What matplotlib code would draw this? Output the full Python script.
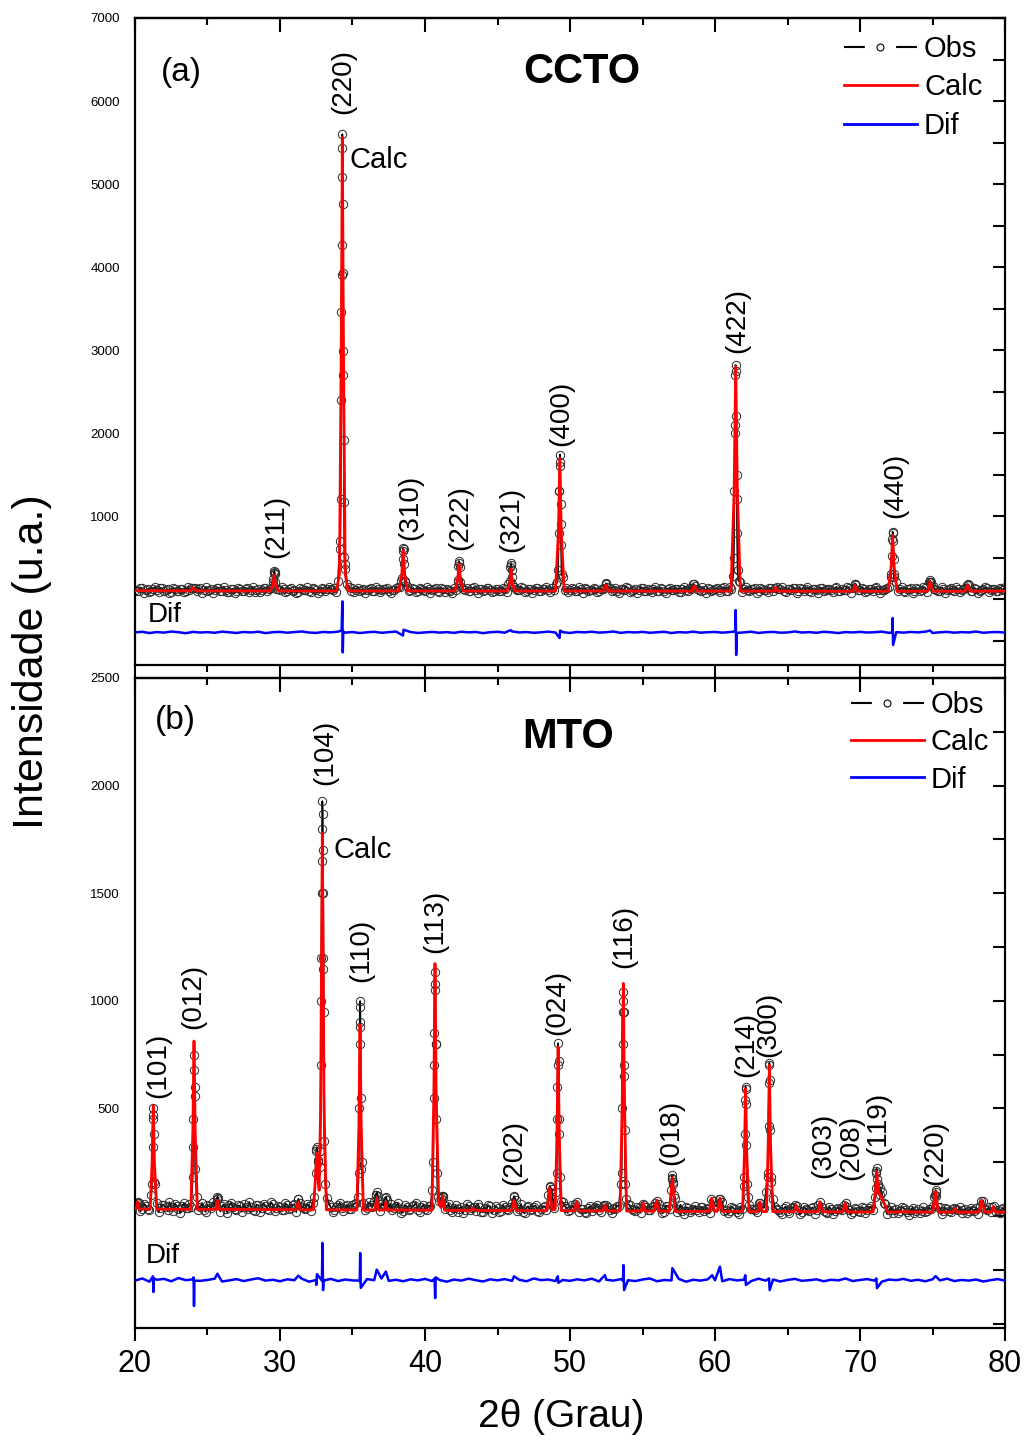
import numpy as np
import matplotlib.pyplot as plt
from matplotlib.lines import Line2D
from matplotlib.ticker import MultipleLocator, FixedLocator

plt.rcParams['font.family'] = ['Liberation Sans', 'DejaVu Sans']

# ---------------- (a) CCTO ----------------
# observed counts on two interleaved 0.25 deg grids, 20..80
grid = np.arange(20, 80.001, 0.25)
grid2 = np.arange(20.125, 79.876, 0.25)
obs_a = [112, 96, 130, 104, 88, 121, 109, 135, 97, 115, 84, 126, 102, 118, 93, 110, 135, 99, 127, 105,
         91, 119, 108, 132, 95, 113, 87, 124, 101, 116, 98, 129, 106, 90, 122, 111, 136, 125, 210, 125,
         103, 118, 94, 127, 109, 86, 121, 113, 99, 131, 107, 92, 125, 116, 120, 135, 220, 3900, 420, 150,
         128, 112, 97, 120, 104, 133, 91, 117, 108, 126, 95, 114, 135, 150, 580, 160, 110, 123, 101, 118,
         96, 124, 107, 130, 89, 115, 121, 102, 134, 200, 150, 112, 98, 127, 105, 119, 93, 131, 110, 101,
         125, 97, 116, 180, 260, 120, 108, 133, 94, 118, 106, 129, 99, 121, 112, 137, 180, 1300, 260, 130,
         104, 122, 96, 117, 131, 101, 113, 126, 92, 120, 185, 128, 107, 95, 124, 111, 136, 99, 118, 105,
         127, 93, 114, 122, 101, 130, 97, 116, 109, 125, 88, 119, 106, 132, 175, 121, 100, 114, 127, 96,
         118, 108, 133, 99, 140, 280, 1200, 200, 125, 103, 116, 128, 94, 121, 110, 135, 102, 150, 117, 98,
         123, 107, 131, 95, 115, 126, 100, 119, 112, 134, 91, 117, 105, 128, 99, 121, 110, 132, 130, 170,
         108, 125, 97, 118, 131, 103, 114, 126, 150, 790, 200, 122, 101, 117, 129, 95, 120, 109, 136, 210,
         160, 113, 98, 124, 107, 130, 93, 118, 111, 127, 170, 102, 121, 96, 115, 129, 104, 119, 100, 125,
         150]
obs2_a = [95, 138, 74, 120, 101, 146, 83, 127, 109, 71, 134, 98, 117, 80, 142, 130, 128, 125, 78, 139,
          104, 76, 131, 92, 148, 86, 115, 73, 136, 100, 122, 79, 144, 107, 88, 129, 97, 130, 320, 115,
          140, 82, 119, 97, 72, 133, 105, 147, 89, 116, 77, 128, 94, 139, 110, 81, 700, 2700, 180, 102,
          86, 137, 113, 75, 124, 99, 145, 84, 118, 131, 73, 106, 141, 220, 200, 96, 127, 80, 134, 110,
          143, 78, 121, 102, 136, 87, 114, 74, 110, 430, 115, 129, 93, 145, 76, 117, 104, 138, 85, 126,
          91, 133, 79, 380, 140, 103, 146, 85, 122, 70, 135, 97, 119, 142, 88, 114, 200, 900, 106, 83,
          128, 95, 141, 72, 116, 105, 137, 81, 124, 130, 140, 99, 132, 77, 119, 146, 90, 113, 75, 135,
          100, 123, 82, 144, 93, 117, 71, 138, 107, 126, 86, 148, 96, 121, 160, 112, 139, 74, 118, 103,
          131, 79, 145, 92, 120, 2000, 220, 87, 142, 98, 125, 72, 136, 109, 84, 130, 130, 116, 140, 81,
          115, 138, 76, 127, 101, 143, 89, 119, 73, 134, 106, 124, 85, 147, 97, 111, 140, 78, 175, 104,
          137, 82, 122, 96, 145, 75, 114, 132, 260, 300, 100, 140, 87, 119, 73, 128, 99, 143, 80, 210,
          126, 91, 139, 78, 117, 104, 146, 83, 121, 165, 95, 134, 72, 113, 141, 88, 125, 100, 137, 110]
# extra observed points on the peaks
pk_x_a = [29.55, 29.58, 29.62, 29.65, 29.68,
          34.15, 34.19, 34.22, 34.24, 34.26, 34.28, 34.3, 34.31, 34.33, 34.35, 34.37, 34.39, 34.41, 34.44, 34.47,
          38.4, 38.45, 38.48, 38.52, 38.56, 38.6,
          42.27, 42.31, 42.35, 42.39, 42.43,
          45.86, 45.9, 45.94, 45.98, 46.02,
          49.18, 49.22, 49.25, 49.28, 49.3, 49.32, 49.35, 49.38, 49.42,
          52.45, 52.5, 58.55,
          61.3, 61.34, 61.37, 61.4, 61.42, 61.44, 61.46, 61.49, 61.52, 61.56,
          69.66,
          72.15, 72.19, 72.22, 72.25, 72.28, 72.31, 72.35,
          74.8, 74.86, 77.43]
pk_y_a = [240, 310, 337, 300, 200,
          600, 1200, 2400, 3460, 4270, 5080, 5600, 5430, 4760, 3930, 2990, 1910, 1170, 510, 360,
          250, 480, 614, 600, 420, 220,
          230, 400, 458, 380, 200,
          220, 410, 434, 350, 180,
          350, 800, 1300, 1650, 1741, 1600, 1150, 650, 300,
          180, 190, 180,
          500, 1300, 2100, 2700, 2820, 2750, 2200, 1500, 800, 350,
          185,
          300, 520, 720, 811, 700, 480, 260,
          229, 200, 180]
calc_x_a = [20.0, 23.8, 24.0, 24.2, 29.3, 29.5, 29.6, 29.7, 29.9,
            33.9, 34.1, 34.22, 34.3, 34.38, 34.5, 34.7,
            38.2, 38.4, 38.5, 38.6, 38.8,
            42.05, 42.25, 42.35, 42.45, 42.65,
            45.65, 45.85, 45.93, 46.01, 46.2,
            49.0, 49.2, 49.3, 49.4, 49.6,
            52.3, 52.48, 52.65, 58.4, 58.57, 58.75,
            61.1, 61.32, 61.43, 61.54, 61.75,
            64.05, 64.2, 64.35, 69.5, 69.66, 69.8,
            71.95, 72.15, 72.25, 72.35, 72.55,
            74.65, 74.83, 75.0, 77.25, 77.43, 77.6, 80.0]
calc_y_a = [100, 98, 135, 98, 97, 160, 290, 160, 97,
            97, 300, 2900, 5566, 2900, 300, 97,
            97, 300, 590, 300, 97,
            96, 230, 420, 230, 96,
            96, 200, 361, 200, 96,
            96, 800, 1692, 800, 96,
            96, 170, 96, 95, 160, 95,
            95, 1300, 2800, 1300, 95,
            95, 140, 95, 94, 165, 94,
            94, 400, 771, 400, 94,
            94, 215, 94, 94, 165, 94, 96]
# difference curve on a 0.5 deg grid plus the spikes
grid_dif = np.arange(20, 80.001, 0.5)
dif_a = [-402, -395, -410, -398, -405, -392, -400, -412, -396, -404, -399, -407, -393, -401, -409, -397, -403, -394, -411, -400,
         -396, -406, -399, -391, -404, -408, -397, -402, -393, -405, -398, -410, -401, -395, -407, -400, -392, -404, -398, -409,
         -403, -396, -405, -399, -408, -394, -402, -397, -411, -400, -395, -406, -390, -403, -398, -407, -401, -393, -404, -399,
         -409, -397, -402, -394, -405, -400, -392, -408, -398, -403, -396, -407, -401, -395, -410, -399, -404, -393, -406, -400,
         -397, -405, -399, -408, -402, -394, -409, -400, -396, -406, -403, -391, -404, -399, -407, -395, -401, -410, -398, -403,
         -396, -404, -400, -393, -408, -399, -405, -397, -402, -394, -409, -401, -396, -406, -399, -403, -392, -407, -400, -398,
         -404]
dif_pk_x_a = [34.25, 34.3, 34.33, 34.36, 38.48, 38.52, 45.9, 49.28, 49.32,
              61.4, 61.43, 61.46, 61.49, 72.22, 72.25, 72.28, 74.83]
dif_pk_y_a = [-380, -29, -643, -390, -440, -370, -375, -470, -380,
              -390, -133, -675, -410, -400, -229, -554, -380]
hkl_a = ['(211)', '(220)', '(310)', '(222)', '(321)', '(400)', '(422)', '(440)']
hkl_x_a = [29.76, 34.34, 38.97, 42.41, 45.93, 49.38, 61.55, 72.41]
hkl_y_a = [494, 5843, 711, 590, 566, 1843, 2964, 976]

# ---------------- (b) MTO ----------------
obs_b = [55, 62, 34, 48, 29, 450, 60, 37, 51, 26, 44, 58, 33, 47, 39, 55, 320, 90, 41, 30,
         53, 36, 49, 85, 45, 31, 52, 40, 28, 46, 57, 35, 43, 24, 50, 38, 47, 29, 54, 36,
         42, 27, 51, 39, 56, 78, 44, 33, 48, 60, 300, 230, 1200, 85, 41, 28, 50, 36, 45, 31,
         49, 60, 900, 62, 38, 52, 70, 95, 58, 82, 40, 29, 47, 35, 22, 44, 31, 50, 26, 41,
         33, 48, 120, 800, 70, 92, 45, 28, 39, 21, 43, 30, 47, 36, 25, 40, 18, 34, 45, 27,
         38, 22, 41, 29, 60, 75, 33, 19, 40, 28, 44, 24, 35, 46, 100, 125, 110, 380, 65, 38,
         27, 42, 66, 31, 20, 37, 25, 43, 30, 45, 52, 28, 36, 48, 150, 650, 55, 33, 22, 39,
         58, 41, 27, 45, 72, 34, 21, 46, 170, 85, 32, 24, 40, 19, 35, 28, 42, 23, 37, 80,
         48, 78, 66, 30, 22, 38, 17, 42, 140, 90, 35, 26, 62, 40, 110, 700, 80, 31, 20, 36,
         24, 39, 52, 28, 17, 34, 23, 41, 29, 66, 25, 15, 33, 22, 38, 27, 62, 30, 19, 35,
         21, 37, 26, 45, 90, 150, 110, 55, 28, 16, 33, 24, 38, 20, 30, 14, 32, 25, 18, 35,
         45, 110, 40, 22, 31, 18, 38, 26, 15, 34, 23, 29, 36, 48, 72, 30, 21, 45, 26, 33,
         28]
obs2_b = [60, 22, 57, 31, 100, 150, 18, 52, 40, 65, 25, 48, 14, 59, 36, 40, 600, 28, 61, 19,
          45, 64, 80, 21, 55, 16, 62, 33, 49, 20, 41, 66, 27, 53, 17, 58, 34, 63, 23, 47,
          26, 59, 35, 50, 18, 60, 38, 56, 24, 90, 250, 1500, 150, 57, 20, 44, 61, 25, 52, 32,
          58, 90, 250, 29, 63, 42, 100, 24, 48, 75, 55, 37, 60, 16, 51, 30, 45, 62, 21, 53,
          29, 46, 700, 90, 85, 33, 57, 18, 49, 35, 14, 54, 26, 43, 58, 20, 39, 50, 13, 47,
          17, 52, 31, 44, 90, 24, 56, 12, 45, 33, 50, 20, 42, 28, 135, 36, 600, 70, 48, 23,
          49, 55, 19, 32, 14, 46, 38, 52, 20, 52, 41, 13, 34, 48, 950, 80, 50, 30, 43, 15,
          50, 27, 44, 60, 55, 16, 48, 35, 150, 21, 53, 11, 39, 29, 46, 18, 41, 33, 12, 70,
          45, 78, 24, 12, 44, 31, 9, 35, 590, 50, 32, 19, 60, 38, 200, 180, 42, 26, 10, 45,
          13, 40, 48, 9, 43, 27, 36, 11, 50, 40, 20, 44, 8, 35, 31, 50, 41, 10, 37, 24,
          42, 12, 38, 28, 210, 130, 60, 9, 40, 27, 14, 43, 30, 7, 39, 22, 12, 41, 24, 34,
          90, 44, 10, 38, 23, 32, 32, 42, 28, 14, 39, 25, 11, 70, 33, 40, 40, 19, 12, 36]
pk_x_b = [20.2,
          21.17, 21.21, 21.24, 21.27, 21.3, 21.34,
          23.98, 24.02, 24.05, 24.08, 24.11, 24.15,
          25.68, 31.26,
          32.45, 32.5, 32.55, 32.6,
          32.78, 32.82, 32.84, 32.86, 32.89, 32.9, 32.92, 32.95, 32.96, 32.98, 33.0, 33.02, 33.06,
          35.42, 35.46, 35.49, 35.51, 35.53, 35.55, 35.58, 35.62,
          36.62, 36.7, 37.3,
          40.57, 40.61, 40.64, 40.67, 40.69, 40.72, 40.75, 40.79, 40.83,
          41.18, 41.25, 46.14, 48.6,
          49.08, 49.12, 49.15, 49.18, 49.21, 49.24, 49.28,
          53.56, 53.6, 53.63, 53.66, 53.68, 53.71, 53.74, 53.78, 53.82,
          56.98, 57.03, 57.06, 57.1, 57.15,
          62.02, 62.06, 62.09, 62.11, 62.14, 62.17, 62.21,
          63.65, 63.69, 63.72, 63.75, 63.78, 63.81, 63.85,
          71.08, 71.12, 71.15, 71.19, 71.25, 71.35,
          75.18, 75.22, 75.27]
pk_y_b = [65,
          150, 320, 470, 500, 380, 160,
          180, 450, 680, 748, 560, 220,
          90, 80,
          200, 310, 320, 260,
          300, 700, 1000, 1200, 1650, 1800, 1928, 1870, 1700, 1500, 1150, 950, 350,
          200, 500, 800, 970, 999, 880, 550, 220,
          100, 110, 90,
          250, 550, 850, 1080, 1135, 1050, 800, 450, 200,
          95, 90, 93, 140,
          200, 450, 700, 803, 720, 450, 180,
          200, 500, 800, 1000, 1042, 950, 700, 400, 150,
          120, 175, 190, 160, 100,
          180, 380, 540, 601, 520, 330, 150,
          180, 420, 620, 712, 630, 400, 160,
          130, 200, 221, 170, 140, 100,
          100, 121, 95]
calc_x_b = [20.0, 20.1, 20.2, 20.3,
            21.05, 21.18, 21.26, 21.34, 21.5,
            23.85, 23.99, 24.07, 24.15, 24.3,
            25.55, 25.68, 25.8,
            31.1, 31.26, 31.4,
            32.3, 32.45, 32.53, 32.6, 32.7, 32.8, 32.92, 33.04, 33.2,
            35.3, 35.44, 35.52, 35.6, 35.75,
            36.55, 36.67, 36.8,
            37.2, 37.3, 37.4,
            40.47, 40.61, 40.69, 40.77, 40.95, 41.1, 41.22, 41.35,
            43.15, 43.3, 43.45,
            45.95, 46.14, 46.3,
            48.4, 48.6, 48.75,
            48.98, 49.1, 49.18, 49.26, 49.4,
            50.3, 50.46, 50.6,
            52.25, 52.41, 52.55,
            53.45, 53.6, 53.68, 53.76, 53.9,
            54.9, 55.06, 55.2,
            55.8, 55.98, 56.1,
            56.85, 57.06, 57.25,
            59.6, 59.77, 59.95,
            60.15, 60.34, 60.5,
            61.9, 62.03, 62.11, 62.19, 62.35,
            62.95, 63.1, 63.25,
            63.55, 63.67, 63.75, 63.83, 63.98,
            65.45, 65.6, 65.75,
            67.08, 67.24, 67.4,
            68.8, 68.97, 69.15,
            70.9, 71.06, 71.15, 71.3, 71.6, 71.9,
            72.95, 73.1, 73.25,
            75.0, 75.22, 75.4,
            76.4, 76.55, 76.7,
            78.2, 78.4, 78.6,
            79.05, 79.2, 79.35, 80.0]
calc_y_b = [32, 45, 65, 32,
            32, 250, 513, 250, 32,
            31, 400, 813, 400, 31,
            31, 74, 31,
            29, 65, 29,
            29, 180, 292, 200, 120, 500, 1780, 500, 29,
            28, 420, 889, 420, 28,
            28, 84, 28,
            28, 65, 28,
            27, 560, 1173, 560, 60, 40, 93, 27,
            26, 37, 26,
            25, 74, 25,
            25, 130, 30,
            30, 380, 785, 380, 25,
            24, 66, 24,
            24, 51, 24,
            24, 520, 1081, 520, 23,
            23, 60, 23,
            23, 74, 23,
            22, 177, 22,
            22, 83, 22,
            22, 83, 22,
            21, 290, 593, 290, 21,
            21, 66, 21,
            21, 340, 701, 340, 21,
            20, 51, 20,
            20, 66, 20,
            19, 60, 19,
            19, 105, 206, 107, 70, 19,
            19, 24, 19,
            18, 113, 18,
            18, 37, 18,
            18, 74, 18,
            18, 43, 18, 18]
dif_b = [-300, -290, -305, -296, -292, -303, -288, -298, -294, -301, -297, -291, -304, -299, -293, -302, -295, -289, -300, -296,
         -303, -294, -298, -291, -305, -297, -300, -292, -302, -295, -299, -304, -293, -298, -290, -301, -296, -303, -294, -299,
         -292, -302, -297, -305, -295, -300, -291, -298, -304, -294, -299, -293, -301, -296, -303, -290, -298, -295, -302, -297,
         -301, -294, -299, -291, -304, -296, -300, -293, -298, -302, -295, -290, -303, -297, -299, -292, -305, -296, -300, -294,
         -298, -303, -293, -299, -296, -302, -291, -300, -295, -304, -297, -292, -301, -298, -294, -303, -296, -299, -290, -302,
         -297, -293, -300, -305, -295, -298, -292, -301, -296, -303, -294, -299, -291, -302, -297, -300, -295, -304, -298, -293,
         -300]
dif_pk_x_b = [21.24, 21.27, 21.3, 24.04, 24.07, 24.1, 25.68, 31.26, 32.5, 32.55,
              32.89, 32.93, 32.97, 35.49, 35.53, 35.57, 36.67, 37.3, 40.66, 40.7, 40.74,
              46.14, 49.16, 49.2, 52.41, 53.65, 53.69, 53.73, 57.06, 59.8, 60.34,
              62.09, 62.13, 63.73, 63.77, 71.13, 71.17, 75.22]
dif_pk_y_b = [-280, -353, -290, -285, -418, -300, -268, -277, -320, -270,
              -300, -125, -344, -300, -172, -334, -249, -258, -290, -381, -285,
              -280, -280, -310, -274, -300, -228, -344, -242, -275, -235,
              -275, -320, -290, -344, -290, -335, -279]
hkl_b = ['(101)', '(012)', '(104)', '(110)', '(113)', '(202)', '(024)', '(116)', '(018)',
         '(214)', '(300)', '(303)', '(208)', '(119)', '(220)']
hkl_x_b = [21.62, 24.03, 33.1, 35.62, 40.69, 46.14, 49.14, 53.72, 57.0,
           62.14, 63.69, 67.48, 69.41, 71.28, 75.17]
hkl_y_b = [548, 869, 2004, 1088, 1222, 145, 841, 1152, 237,
           647, 740, 177, 167, 283, 144]


def merged(xs, ys):
    x = np.concatenate([np.asarray(v, float) for v in xs])
    y = np.concatenate([np.asarray(v, float) for v in ys])
    o = np.argsort(x, kind='stable')
    return x[o], y[o]


def panel(ax, obs, obs2, pkx, pky, cx, cy, dif, dpx, dpy, hkl, hx, hy, ylim, yticks, yminor):
    ox, oy = merged([grid, grid2, pkx], [obs, obs2, pky])
    dx, dy = merged([grid_dif, dpx], [dif, dpy])
    ax.plot(ox, oy, color='black', lw=1.2, marker='o', ms=6, mfc='none',
            mec='#2a2a2a', mew=0.7, zorder=2)
    ax.plot(cx, cy, color='red', lw=2.0, zorder=3)
    ax.plot(dx, dy, color='blue', lw=1.8, zorder=3)
    for lab, x, y in zip(hkl, hx, hy):
        ax.text(x, y, lab, rotation=90, ha='center', va='bottom', fontsize=20)
    ax.set_xlim(20, 80)
    ax.set_ylim(*ylim)
    for s in ax.spines.values():
        s.set_linewidth(1.6)
    ax.xaxis.set_major_locator(MultipleLocator(10))
    ax.xaxis.set_minor_locator(MultipleLocator(5))
    ax.tick_params(axis='x', which='both', direction='out', width=1.5, top=False)
    ax.tick_params(axis='x', which='major', length=9)
    ax.tick_params(axis='x', which='minor', length=5)
    ax.yaxis.set_major_locator(FixedLocator(yticks))
    ax.yaxis.set_minor_locator(MultipleLocator(yminor))
    ax.tick_params(axis='y', which='both', left=False, right=True, direction='in',
                   length=8.5, width=1.5, labelsize=9.5, pad=11)
    top = ax.secondary_xaxis('top')
    top.xaxis.set_major_locator(MultipleLocator(10))
    top.xaxis.set_minor_locator(MultipleLocator(5))
    top.tick_params(axis='x', which='both', direction='in', width=1.5, labeltop=False)
    top.tick_params(axis='x', which='major', length=10)
    top.tick_params(axis='x', which='minor', length=5)
    top.spines['top'].set_linewidth(1.6)

    h_obs = (Line2D([], [], color='black', lw=1.5, ls=(0, (10, 15))),
             Line2D([], [], ls='none', marker='o', ms=5, mfc='white', mec='black', mew=0.8))
    h_calc = Line2D([], [], color='red', lw=2)
    h_dif = Line2D([], [], color='blue', lw=2)
    return [h_obs, h_calc, h_dif]


fig = plt.figure(figsize=(10.25, 14.4), dpi=100)
ax1 = fig.add_axes([0.1317, 0.5382, 0.8488, 0.4493])
ax2 = fig.add_axes([0.1317, 0.0778, 0.8488, 0.4514])

hs = panel(ax1, obs_a, obs2_a, pk_x_a, pk_y_a, calc_x_a, calc_y_a, dif_a, dif_pk_x_a, dif_pk_y_a,
           hkl_a, hkl_x_a, hkl_y_a, (-795, 7000), [1000, 2000, 3000, 4000, 5000, 6000, 7000], 500)
ax1.tick_params(axis='x', labelbottom=False)
ax1.legend(hs, ['Obs', 'Calc', 'Dif'], loc='upper right', bbox_to_anchor=(0.974, 0.974),
           frameon=False, fontsize=21, handlelength=2.5, handletextpad=0.25,
           labelspacing=0.36, borderpad=0, borderaxespad=0)
ax1.text(0.053, 0.9165, '(a)', transform=ax1.transAxes, fontsize=24, ha='center', va='center')
ax1.text(0.514, 0.9165, 'CCTO', transform=ax1.transAxes, fontsize=30, fontweight='bold',
         ha='center', va='center')
ax1.text(0.247, 0.7805, 'Calc', transform=ax1.transAxes, fontsize=21, ha='left', va='center')
ax1.text(0.015, 0.078, 'Dif', transform=ax1.transAxes, fontsize=20, ha='left', va='center')

hs = panel(ax2, obs_b, obs2_b, pk_x_b, pk_y_b, calc_x_b, calc_y_b, dif_b, dif_pk_x_b, dif_pk_y_b,
           hkl_b, hkl_x_b, hkl_y_b, (-520, 2500), [500, 1000, 1500, 2000, 2500], 250)
ax2.tick_params(axis='x', which='major', labelsize=22, pad=6)
ax2.legend(hs, ['Obs', 'Calc', 'Dif'], loc='upper right', bbox_to_anchor=(0.982, 0.98),
           frameon=False, fontsize=21, handlelength=2.5, handletextpad=0.25,
           labelspacing=0.32, borderpad=0, borderaxespad=0)
ax2.text(0.046, 0.935, '(b)', transform=ax2.transAxes, fontsize=24, ha='center', va='center')
ax2.text(0.498, 0.909, 'MTO', transform=ax2.transAxes, fontsize=30, fontweight='bold',
         ha='center', va='center')
ax2.text(0.2276, 0.735, 'Calc', transform=ax2.transAxes, fontsize=21, ha='left', va='center')
ax2.text(0.012, 0.11, 'Dif', transform=ax2.transAxes, fontsize=20, ha='left', va='center')

fig.text(32 / 1025, 1 - 662 / 1440, 'Intensidade (u.a.)', rotation=90, fontsize=31,
         ha='center', va='center')
fig.text(561 / 1025, 1 - 1417 / 1440, '2θ (Grau)', fontsize=28, ha='center', va='center')

fig.savefig('out.png', dpi=100)
